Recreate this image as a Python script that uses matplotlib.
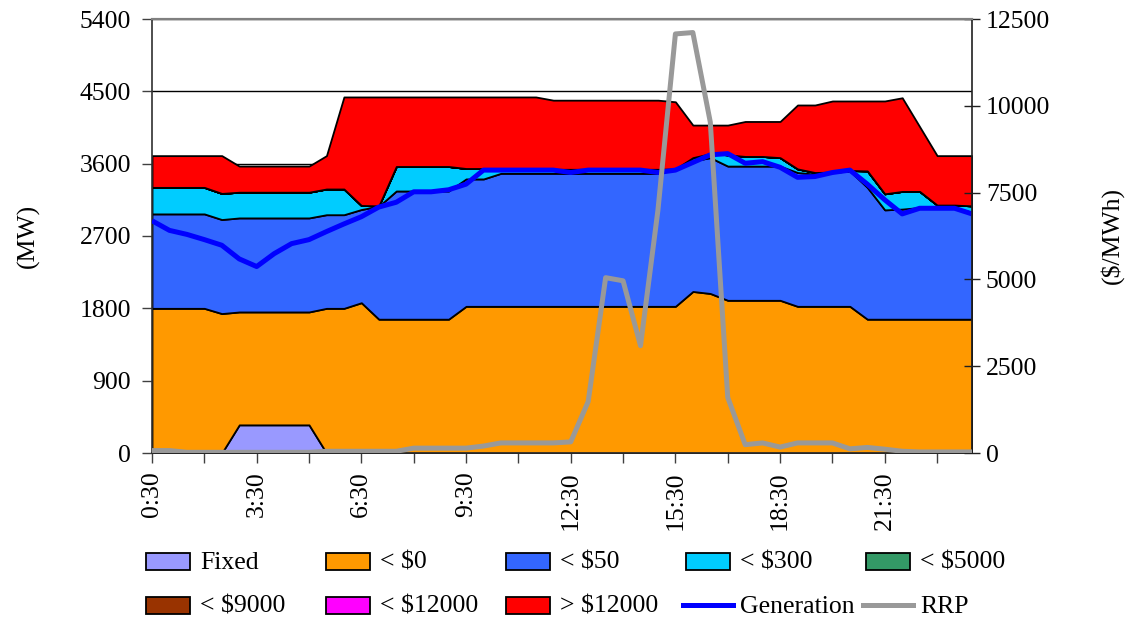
import numpy as np
import matplotlib
matplotlib.use("Agg")
import matplotlib.pyplot as plt
from matplotlib.patches import Rectangle
from matplotlib.lines import Line2D

plt.rcParams['font.family'] = ['Liberation Serif', 'DejaVu Serif']

# Half-hourly trading intervals 0:30 .. 24:00
times = [f"{(h) // 2}:{'30' if h % 2 else '00'}" for h in range(1, 49)]

# Cumulative tops (MW)
fixed = [0, 0, 0, 0, 0, 350, 350, 350, 350, 350, 0, 0, 0, 0, 0, 0,
         0, 0, 0, 0, 0, 0, 0, 0, 0, 0, 0, 0, 0, 0, 0, 0,
         0, 0, 0, 0, 0, 0, 0, 0, 0, 0, 0, 0, 0, 0, 0, 0]
top_lt0 = [1800, 1800, 1800, 1800, 1735, 1755, 1755, 1755, 1755, 1755, 1800, 1800,
           1870, 1665, 1665, 1665, 1665, 1665, 1825, 1825, 1825, 1825, 1825, 1825,
           1825, 1825, 1825, 1825, 1825, 1825, 1825, 2010, 1985, 1900, 1900, 1900,
           1900, 1825, 1825, 1825, 1825, 1665, 1665, 1665, 1665, 1665, 1665, 1665]
top_lt50 = [2975, 2975, 2975, 2975, 2905, 2925, 2925, 2925, 2925, 2925, 2965, 2965,
            3030, 3070, 3260, 3260, 3260, 3260, 3410, 3410, 3480, 3480, 3480, 3480,
            3480, 3480, 3480, 3480, 3480, 3480, 3530, 3635, 3675, 3570, 3570, 3570,
            3570, 3490, 3470, 3490, 3510, 3305, 3025, 3035, 3055, 3055, 3055, 2995]
top_lt300 = [3305, 3305, 3305, 3305, 3230, 3245, 3245, 3245, 3245, 3245, 3285, 3285,
             3080, 3075, 3565, 3565, 3565, 3565, 3540, 3540, 3530, 3530, 3530, 3530,
             3530, 3530, 3530, 3530, 3530, 3530, 3535, 3675, 3725, 3710, 3690, 3690,
             3675, 3535, 3490, 3495, 3515, 3510, 3225, 3255, 3255, 3085, 3085, 3075]
lt5000 = [0] * 48
lt9000 = [0] * 48
lt12000 = [0] * 48
top_gt12000 = [3700, 3700, 3700, 3700, 3700, 3570, 3570, 3570, 3570, 3570, 3700, 4430,
               4430, 4430, 4430, 4430, 4430, 4430, 4430, 4430, 4430, 4430, 4430, 4390,
               4390, 4390, 4390, 4390, 4390, 4390, 4370, 4080, 4080, 4080, 4125, 4125,
               4125, 4330, 4330, 4380, 4380, 4380, 4380, 4420, 4060, 3700, 3700, 3700]

generation = [2890, 2770, 2720, 2655, 2585, 2415, 2320, 2480, 2605, 2655, 2755, 2850,
              2940, 3060, 3120, 3250, 3250, 3275, 3345, 3520, 3520, 3520, 3520, 3520,
              3490, 3520, 3520, 3520, 3520, 3490, 3520, 3615, 3710, 3725, 3605, 3625,
              3555, 3430, 3440, 3490, 3520, 3345, 3150, 2975, 3045, 3045, 3045, 2975]
rrp = [70, 70, 20, 20, 20, 20, 20, 20, 20, 20, 50, 50,
       50, 50, 50, 140, 140, 140, 140, 200, 290, 290, 290, 290,
       320, 1480, 5050, 4960, 3090, 7000, 12070, 12110, 9530, 1600, 240, 290,
       170, 290, 290, 290, 120, 160, 110, 50, 30, 30, 30, 30]

# layer values
f = np.array(fixed, float)
l0 = np.array(top_lt0, float) - f
l50 = np.array(top_lt50, float) - np.array(top_lt0, float)
l300 = np.array(top_lt300, float) - np.array(top_lt50, float)
l5000 = np.array(lt5000, float)
l9000 = np.array(lt9000, float)
l12000 = np.array(lt12000, float)
lgt = np.array(top_gt12000, float) - np.array(top_lt300, float) - l5000 - l9000 - l12000

labels = ["Fixed", "< $0", "< $50", "< $300", "< $5000", "< $9000", "< $12000", "> $12000"]
colors = ["#9999FF", "#FF9900", "#3366FF", "#00CCFF", "#339966", "#993300", "#FF00FF", "#FF0000"]

W, H = 1126, 623
fig = plt.figure(figsize=(W / 100, H / 100), dpi=100)
fig.subplots_adjust(left=152 / W, right=972 / W, top=1 - 19 / H, bottom=1 - 453 / H)
ax = fig.add_subplot(111)
x = np.arange(len(times))

ax.stackplot(x, f, l0, l50, l300, l5000, l9000, l12000, lgt, colors=colors,
             edgecolor="black", linewidth=1.3, zorder=2)
ax.plot(x, generation, color="#0000FF", lw=3.6, zorder=3, solid_capstyle="butt")

FS = 18.5
ax.set_xlim(0, 47)
ax.set_ylim(0, 5400)
ax.set_yticks(np.arange(0, 5401, 900))
ax.tick_params(axis="y", labelsize=FS, direction="out", length=7, width=1, color="#404040", pad=8)
ax.set_xticks(np.arange(0, 48, 3))
ax.set_xticklabels([times[i] if i % 6 == 0 else "" for i in range(0, 48, 3)], rotation=90)
ax.tick_params(axis="x", labelsize=FS, direction="out", length=7, width=1, color="#404040", pad=6)
ax.yaxis.grid(True, color="black", lw=1, zorder=0)
ax.set_axisbelow(True)
ax.set_ylabel("(MW)", fontsize=FS, labelpad=29)
for s in ["left", "bottom"]:
    ax.spines[s].set_color("#303030")
    ax.spines[s].set_linewidth(1.2)
ax.spines["top"].set_color("#808080")
ax.spines["top"].set_linewidth(1.5)
ax.spines["top"].set_zorder(5)
ax.spines["right"].set_visible(False)

ax2 = ax.twinx()
ax2.plot(x, rrp, color="#999999", lw=3.6, zorder=4)
ax2.set_ylim(0, 12500)
ax2.set_yticks(np.arange(0, 12501, 2500))
ax2.tick_params(axis="y", labelsize=FS, direction="inout", length=12, width=1, color="#202020", pad=4)
ax2.set_ylabel("($/MWh)", fontsize=FS, labelpad=36)
ax2.spines["right"].set_color("#202020")
ax2.spines["right"].set_linewidth(1.2)
ax2.spines["top"].set_color("#808080")
ax2.spines["top"].set_linewidth(1.5)
ax2.spines["left"].set_visible(False)
ax2.spines["bottom"].set_visible(False)

# manual legend (pixel layout)
def fx(px):
    return px / W

def fy(py):
    return 1 - py / H

entries = [(lab, col, "patch") for lab, col in zip(labels, colors)]
entries += [("Generation", "#0000FF", "line"), ("RRP", "#999999", "line")]
for k, (lab, col, kind) in enumerate(entries):
    row, c = divmod(k, 5)
    left = 146 + 180 * c
    cy = 561 + 44 * row
    if kind == "patch":
        fig.add_artist(Rectangle((fx(left), fy(cy + 8.5)), 44 / W, 17 / H,
                                 transform=fig.transFigure, facecolor=col,
                                 edgecolor="black", lw=1.3))
        fig.text(fx(left + 54), fy(cy + 2), lab, fontsize=FS, va="center", ha="left")
    else:
        fig.add_artist(Line2D([fx(left - 3), fx(left + 47)], [fy(cy), fy(cy)],
                              transform=fig.transFigure, color=col, lw=3.6))
        fig.text(fx(left + 54), fy(cy + 2), lab, fontsize=FS, va="center", ha="left")

fig.savefig("out.png", dpi=100)
